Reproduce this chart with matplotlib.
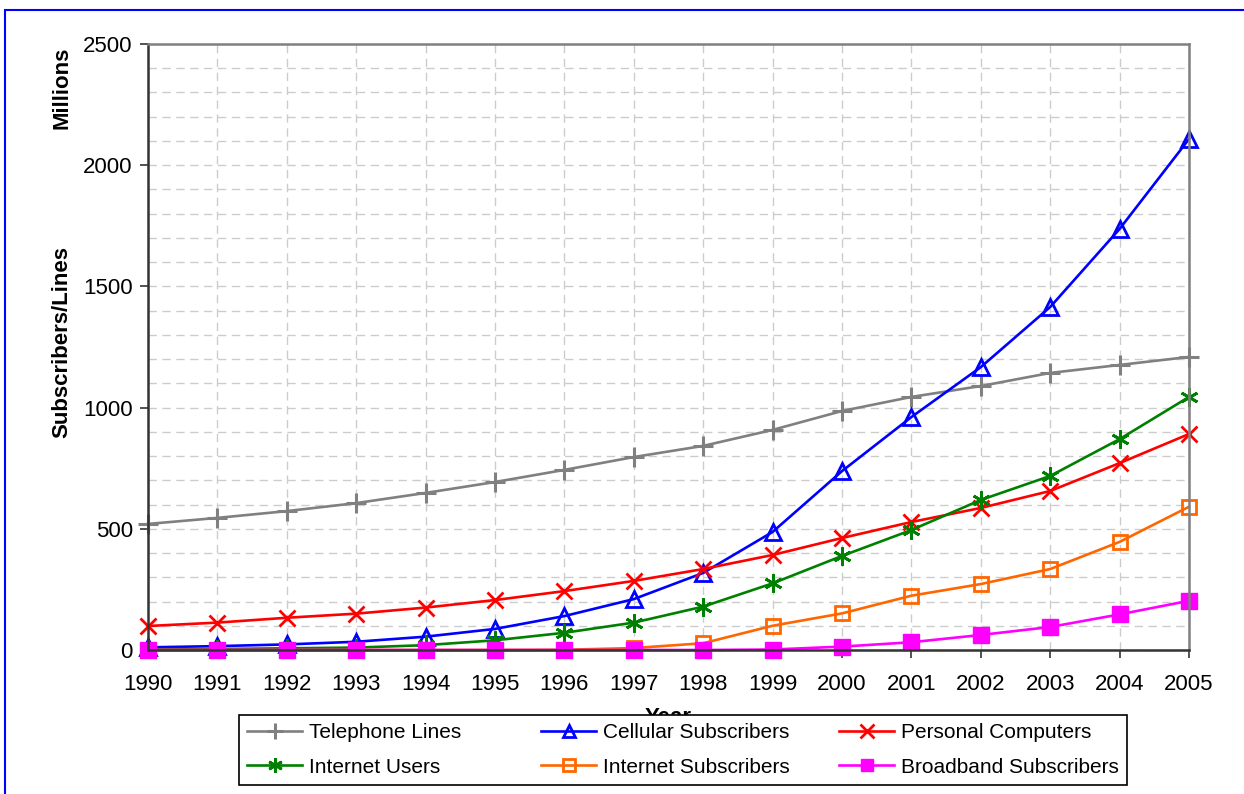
import matplotlib
matplotlib.use("Agg")
import matplotlib.pyplot as plt
from matplotlib.patches import Rectangle

plt.rcParams['font.family'] = ['Liberation Sans', 'DejaVu Sans']

# data (millions)
years = list(range(1990, 2006))
telephone = [520, 545, 573, 606, 648, 693, 743, 796, 842, 908, 986, 1044, 1089, 1143, 1176, 1209]
cellular = [11, 16, 23, 34, 55, 87, 140, 210, 318, 487, 738, 961, 1167, 1415, 1737, 2108]
computers = [99, 113, 133, 150, 175, 206, 243, 285, 334, 392, 462, 528, 586, 656, 771, 891]
net_users = [3, 4, 7, 10, 20, 40, 71, 113, 179, 275, 388, 495, 619, 718, 870, 1044]
net_subs = [0, 0, 0, 0, 0, 0, 1, 8, 28, 100, 151, 224, 272, 334, 446, 591]
broadband = [0, 0, 0, 0, 0, 0, 0, 0, 0, 2, 14, 32, 62, 95, 147, 203]

series_names = ['Telephone Lines', 'Cellular Subscribers', 'Personal Computers',
                'Internet Users', 'Internet Subscribers', 'Broadband Subscribers']

fig = plt.figure(figsize=(12.44, 7.94), dpi=100)
ax = fig.add_axes([148/1244, 1 - 650/794, (1189 - 148)/1244, (650 - 44)/794])

lw = 1.9
kw = dict(lw=lw, clip_on=False)
l_tel, = ax.plot(years, telephone, color='#808080', marker='+', ms=14, mew=2.2, **kw)
l_cel, = ax.plot(years, cellular, color='#0000FF', marker='^', ms=11.5, mew=2, mfc='none', **kw)
l_pc, = ax.plot(years, computers, color='#FF0000', marker='x', ms=12, mew=2, **kw)
l_iu, = ax.plot(years, net_users, color='#008000', marker=(6, 2, 0), ms=13, mew=2, **kw)
l_is, = ax.plot(years, net_subs, color='#FF6600', marker='s', ms=10.5, mew=2, mfc='none', **kw)
l_bb, = ax.plot(years, broadband, color='#FF00FF', marker='s', ms=11, mew=1, **kw)

ax.set_xlim(1990, 2005)
ax.set_ylim(0, 2500)
ax.set_xticks(years)
ax.set_yticks(range(0, 2501, 500))
ax.set_yticks(range(0, 2501, 100), minor=True)
ax.tick_params(axis='both', labelsize=16, direction='out', length=6, width=1.2,
               colors='#333333', labelcolor='black')
ax.tick_params(axis='x', pad=11)
ax.tick_params(axis='y', pad=5)
ax.tick_params(axis='y', which='minor', length=0)
ax.grid(True, which='both', axis='y', color='#cccccc', ls=(0, (6, 4)), lw=1)
ax.grid(True, which='major', axis='x', color='#cccccc', ls=(0, (6, 4)), lw=1)
ax.set_axisbelow(True)

for side in ['left', 'bottom']:
    ax.spines[side].set_color('#333333')
    ax.spines[side].set_linewidth(1.8)
for side in ['top', 'right']:
    ax.spines[side].set_color('#808080')
    ax.spines[side].set_linewidth(1.8)

# the x label sits half hidden behind the legend, as in the original
ax.set_xlabel('Year', fontsize=16, fontweight='bold', labelpad=9)
fig.text(62/1244, 1 - 342/794, 'Subscribers/Lines', rotation=90, fontsize=16,
         fontweight='bold', ha='center', va='center')
fig.text(62/1244, 1 - 88/794, 'Millions', rotation=90, fontsize=16,
         fontweight='bold', ha='center', va='center')

handles = [l_tel, l_iu, l_cel, l_is, l_pc, l_bb]
labels = [series_names[0], series_names[3], series_names[1],
          series_names[4], series_names[2], series_names[5]]
leg = fig.legend(handles, labels, ncol=3, loc='upper left',
                 bbox_to_anchor=(239/1244, 1 - 715/794), borderaxespad=0,
                 fontsize=15, frameon=True, fancybox=False, edgecolor='black',
                 framealpha=1, handlelength=2.65, handletextpad=0.3, columnspacing=0,
                 borderpad=0.39, labelspacing=0.75, markerscale=0.8)
leg.get_frame().set_linewidth(1.2)
leg.set_zorder(10)

# equal-width legend columns (Excel style), widths in pixels
col_widths = [294, 298, None]
for col, w in zip(leg._legend_handle_box.get_children(), col_widths):
    if w is not None:
        col.align = 'left'
        col.width = w

# blue outer border of the chart area
fig.patches.append(Rectangle((5/1244, -0.1), 1.2, 1 - 10/794 + 0.1, transform=fig.transFigure,
                             fill=False, edgecolor='#0000FF', lw=1.5))

fig.savefig('out.png', dpi=100)
